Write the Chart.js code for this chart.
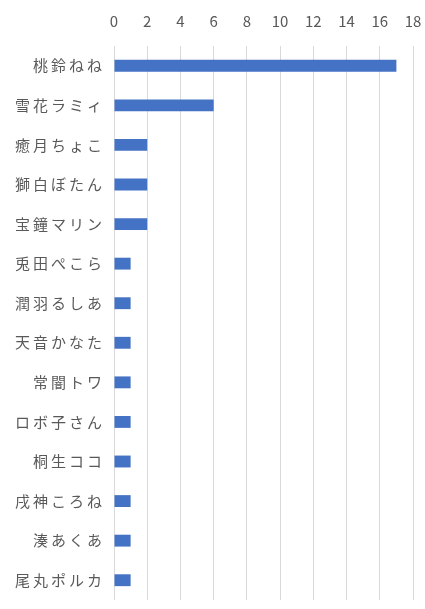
<!DOCTYPE html>
<html lang="ja">
<head>
    <meta charset="UTF-8">
    <title>グラフ</title>
    <script src="https://cdn.jsdelivr.net/npm/chart.js"></script>
    <style>
        body { margin: 0; background: #ffffff; }
        canvas { display: block; }
    </style>
</head>
<body>
    <canvas id="grafico" width="425" height="609"></canvas>

<script>
    // dados
    const nomes = ['桃鈴ねね', '雪花ラミィ', '癒月ちょこ', '獅白ぼたん', '宝鐘マリン', '兎田ぺこら', '潤羽るしあ',
        '天音かなた', '常闇トワ', 'ロボ子さん', '桐生ココ', '戌神ころね', '湊あくあ', '尾丸ポルカ'];
    const valores = [17, 6, 2, 2, 2, 1, 1, 1, 1, 1, 1, 1, 1, 1];
    const eixoMin = 0;
    const eixoMax = 18;
    const passo = 2;

    const fonte = '"Noto Sans CJK JP", "Noto Sans", sans-serif';

    const data = {
        labels: nomes,
        datasets: [
            {
                data: valores,
                backgroundColor: '#4472c4',
                borderWidth: 0,
                barPercentage: 0.6,
                categoryPercentage: 0.5,
            }
        ]
    };

    function ajustarEixoX(scale) {
        scale.height = 46;
        scale.paddingLeft = 0;
        scale.paddingRight = 12;
    }

    // os nomes no original tem letras mais espaçadas
    function espacarNomes(scale) {
        scale.width = 114;
        scale.paddingTop = 0;
        scale.paddingBottom = 9;
        if (scale._espacado) return;
        const original = scale.drawLabels;
        scale.drawLabels = function (area) {
            this.ctx.save();
            this.ctx.letterSpacing = '3px';
            original.call(this, area);
            this.ctx.restore();
        };
        scale._espacado = true;
    }

    const config = {
        type: 'bar',
        data: data,
        options: {
            indexAxis: 'y',
            responsive: false,
            devicePixelRatio: 1,
            animation: false,
            layout: {
                padding: 0
            },
            scales: {
                x: {
                    position: 'top',
                    min: eixoMin,
                    max: eixoMax,
                    ticks: {
                        stepSize: passo,
                        color: '#595959',
                        padding: 16,
                        font: { family: fonte, size: 15 }
                    },
                    grid: {
                        color: '#d9d9d9',
                        lineWidth: 1,
                        drawTicks: false
                    },
                    border: { display: false },
                    afterFit: ajustarEixoX
                },
                y: {
                    ticks: {
                        color: '#595959',
                        padding: 9,
                        font: { family: fonte, size: 15 }
                    },
                    grid: { display: false, drawTicks: false },
                    border: { display: false },
                    afterFit: espacarNomes
                }
            },
            plugins: {
                legend: { display: false },
                title: { display: false },
                tooltip: { enabled: false }
            }
        }
    };

    let myChart = new Chart(document.getElementById('grafico'), config);
</script>
</body>
</html>
